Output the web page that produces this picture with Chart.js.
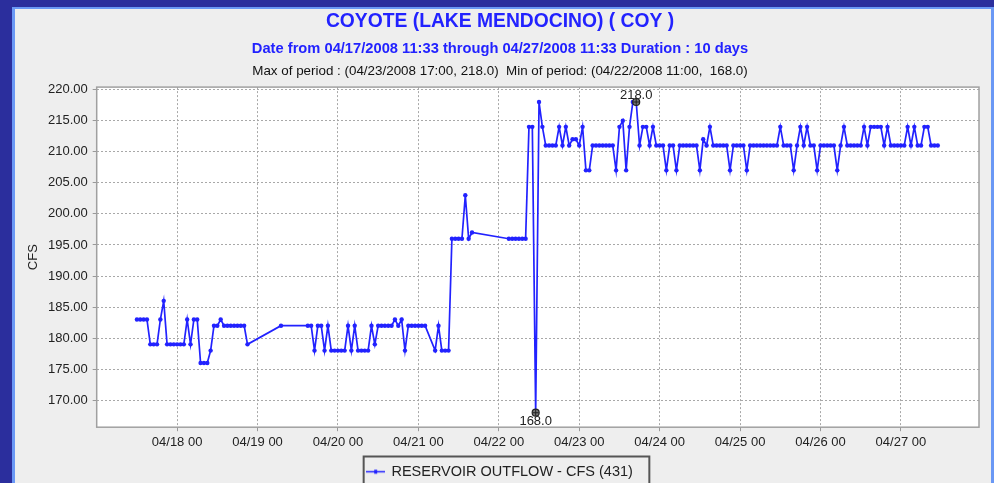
<!DOCTYPE html>
<html>
<head>
<meta charset="utf-8">
<script src="https://cdn.jsdelivr.net/npm/chart.js@4.4.0/dist/chart.umd.min.js"></script>
<style>
html,body{margin:0;padding:0;width:994px;height:483px;overflow:hidden;background:#2b2e9d;}
#panel{position:absolute;left:12px;top:7px;width:982px;height:600px;box-sizing:border-box;background:#eeeeee;border-left:3px solid #6a98f5;border-top:2px solid #6a98f5;border-right:3px solid #6a98f5;}
#wrap{position:absolute;left:0;top:0;width:994px;height:520px;}
</style>
</head>
<body>
<div id="panel"></div>
<div id="wrap"><canvas id="c"></canvas></div>
<script>
// ---- text ----
const titleText = 'COYOTE (LAKE MENDOCINO) ( COY )';
const subtitleText = 'Date from 04/17/2008 11:33 through 04/27/2008 11:33 Duration : 10 days';
const statsText = 'Max of period : (04/23/2008 17:00, 218.0)  Min of period: (04/22/2008 11:00,  168.0)';
const seriesName = 'RESERVOIR OUTFLOW - CFS (431)';
const yAxisTitle = 'CFS';

// ---- axes ----
const xTickHours = [24, 48, 72, 96, 120, 144, 168, 192, 216, 240];   // hours since 04/17 00:00
const xTickLabels = ['04/18 00','04/19 00','04/20 00','04/21 00','04/22 00','04/23 00','04/24 00','04/25 00','04/26 00','04/27 00'];
const yTickValues = [170, 175, 180, 185, 190, 195, 200, 205, 210, 215, 220];

// ---- hourly outflow (CFS), one array per day, index = hour of day, null = no reading ----
const n = null;
const day0417 = [n,n,n,n,n,n,n,n,n,n,n,n, 183,183,183,183, 179,179,179, 183, 186, 179,179,179];
const day0418 = [179,179,179, 183, 179, 183,183, 176,176,176, 178, 182,182, 183, 182,182,182,182,182,182,182, 179, n,n];
const day0419 = [n,n,n,n,n,n,n, 182, n,n,n,n,n,n,n, 182,182, 178, 182,182, 178, 182, 178,178];
const day0420 = [178,178,178, 182, 178, 182, 178,178,178,178, 182, 179, 182,182,182,182,182, 183, 182, 183, 178, 182,182,182];
const day0421 = [182,182,182, n,n, 178, 182, 178,178,178, 196,196,196,196, 203, 196, 197, n,n,n,n,n,n,n];
const day0422 = [n,n,n, 196,196,196,196,196,196, 214,214, 168, 218, 214, 211,211,211,211, 214, 211, 214, 211, 212,212];
const day0423 = [211, 214, 207,207, 211,211,211,211,211,211,211, 207, 214, 215, 207, 214, 218, 218, 211, 214,214, 211, 214, 211];
const day0424 = [211,211, 207, 211,211, 207, 211,211,211,211,211,211, 207, 212, 211, 214, 211,211,211,211,211, 207, 211,211];
const day0425 = [211,211, 207, 211,211,211,211,211,211,211,211,211, 214, 211,211,211, 207, 211, 214, 211, 214, 211,211, 207];
const day0426 = [211,211,211,211,211, 207, 211, 214, 211,211,211,211,211, 214, 211, 214,214,214,214, 211, 214, 211,211,211];
const day0427 = [211,211, 214, 211, 214, 211,211, 214,214, 211,211,211];

const days = [day0417, day0418, day0419, day0420, day0421, day0422, day0423, day0424, day0425, day0426, day0427];
const points = [];
days.forEach((vals, d) => vals.forEach((v, h) => { if (v !== null) points.push({x: d * 24 + h, y: v}); }));

// min (first occurrence) and max (last occurrence) of period
let minPt = points[0], maxPt = points[0];
points.forEach(p => { if (p.y < minPt.y) minPt = p; if (p.y >= maxPt.y) maxPt = p; });

const FONT = "'Liberation Sans', Arial, sans-serif";
const BLUE = '#2222ff';

// legend icon: line with a dot
const icon = document.createElement('canvas');
icon.width = 19; icon.height = 7;
(function(){
  const g = icon.getContext('2d');
  g.strokeStyle = BLUE; g.lineWidth = 1.5;
  g.beginPath(); g.moveTo(0, 3.5); g.lineTo(19, 3.5); g.stroke();
  g.fillStyle = BLUE; g.fillRect(8, 1.5, 3, 4);
})();

const decor = {
  id: 'decor',
  beforeDraw(chart) {
    const {ctx, chartArea: a} = chart;
    ctx.save();
    ctx.fillStyle = '#ffffff';
    ctx.fillRect(a.left, a.top, a.right - a.left, a.bottom - a.top);
    ctx.restore();
  },
  afterDatasetsDraw(chart) {
    const {ctx, scales: {x, y}} = chart;
    ctx.save();
    const marks = [[maxPt, -7], [minPt, 8.5]];
    marks.forEach(([p, dy]) => {
      const px = x.getPixelForValue(p.x), py = y.getPixelForValue(p.y);
      ctx.beginPath(); ctx.arc(px, py, 3.5, 0, Math.PI * 2);
      ctx.fillStyle = '#777'; ctx.fill();
      ctx.lineWidth = 1.2; ctx.strokeStyle = '#222'; ctx.stroke();
      ctx.beginPath(); ctx.moveTo(px - 3, py); ctx.lineTo(px + 3, py); ctx.moveTo(px, py - 3); ctx.lineTo(px, py + 3);
      ctx.lineWidth = 1; ctx.stroke();
      ctx.fillStyle = '#222'; ctx.font = '13px ' + FONT;
      ctx.textAlign = 'center'; ctx.textBaseline = 'middle';
      ctx.fillText(p.y.toFixed(1), px, py + dy);
    });
    ctx.restore();
  },
  afterDraw(chart) {
    const {ctx, chartArea: a} = chart;
    ctx.save();
    // plot frame
    ctx.strokeStyle = '#a0a0a0'; ctx.lineWidth = 1.5;
    ctx.strokeRect(a.left, a.top, a.right - a.left, a.bottom - a.top);
    // third header line
    ctx.fillStyle = '#111'; ctx.font = '13.4px ' + FONT;
    ctx.textAlign = 'center'; ctx.textBaseline = 'middle';
    ctx.fillText(statsText, 500, 71);
    // legend frame
    const hb = chart.legend.legendHitBoxes[0];
    if (hb) {
      ctx.strokeStyle = '#555'; ctx.lineWidth = 2;
      ctx.strokeRect(hb.left - 3.5, hb.top - 8, hb.width + 20, 60);
    }
    ctx.restore();
  }
};

new Chart(document.getElementById('c'), {
  type: 'line',
  data: {
    datasets: [{
      label: seriesName,
      data: points,
      borderColor: BLUE,
      backgroundColor: BLUE,
      borderWidth: 1.7,
      pointRadius: 2.2,
      pointBorderWidth: 0,
      pointBackgroundColor: BLUE,
      tension: 0,
      fill: false
    }]
  },
  options: {
    responsive: true,
    maintainAspectRatio: false,
    animation: false,
    events: [],
    layout: { padding: { left: 21, right: 15, top: 0, bottom: 31 } },
    plugins: {
      title: {
        display: true, text: titleText, color: BLUE,
        font: { family: FONT, size: 19.3, weight: 'bold' },
        padding: { top: 9.6, bottom: 0 }
      },
      subtitle: {
        display: true, text: subtitleText, color: BLUE,
        font: { family: FONT, size: 14.7, weight: 'bold' },
        padding: { top: 7.8, bottom: 28.9 }
      },
      legend: {
        display: true, position: 'bottom',
        labels: {
          color: '#222', font: { family: FONT, size: 14.5 },
          usePointStyle: true, pointStyle: icon, pointStyleWidth: 17, padding: 10
        }
      },
      tooltip: { enabled: false }
    },
    scales: {
      x: {
        type: 'linear', min: 0, max: 263.3,
        afterBuildTicks: s => { s.ticks = xTickHours.map(v => ({value: v})); },
        afterFit: s => { s.height = 27.3; },
        ticks: {
          autoSkip: false, maxRotation: 0, padding: 3, color: '#222',
          font: { family: FONT, size: 13 },
          callback: (v, i) => xTickLabels[i]
        },
        grid: { color: '#a8a8a8', lineWidth: 1, tickLength: 4, tickColor: '#999', tickBorderDash: [] },
        border: { display: false, dash: [2, 2] }
      },
      y: {
        type: 'linear', min: 165.67, max: 220.4,
        afterBuildTicks: s => { s.ticks = yTickValues.map(v => ({value: v})); },
        afterFit: s => { s.width = 75.7; },
        ticks: {
          padding: 5, color: '#222',
          font: { family: FONT, size: 13 },
          callback: v => Number(v).toFixed(2)
        },
        title: {
          display: true, text: yAxisTitle, color: '#222',
          font: { family: FONT, size: 13 },
          padding: { top: 4.2, bottom: 0 }
        },
        grid: { color: '#a8a8a8', lineWidth: 1, tickLength: 4, tickColor: '#999', tickBorderDash: [] },
        border: { display: false, dash: [2, 2] }
      }
    }
  },
  plugins: [decor]
});
</script>
</body>
</html>
